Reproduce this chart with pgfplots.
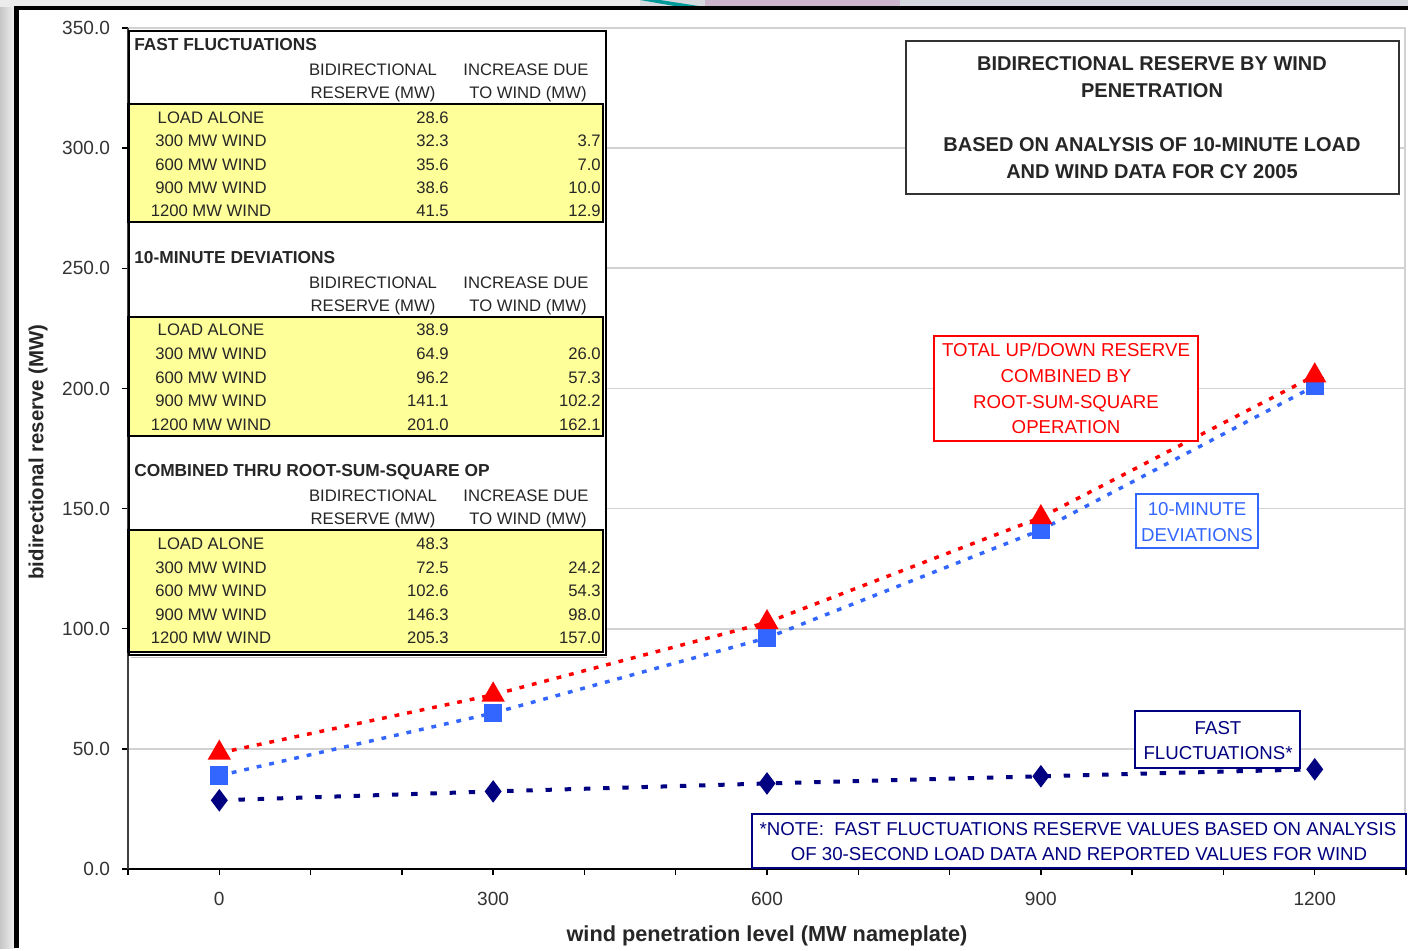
\documentclass[border=0pt]{standalone}
\usepackage{pgfplots}
\pgfplotsset{compat=1.18}
\usepackage{fontspec}
\setmainfont{Liberation Sans}
\definecolor{xlnavy}{RGB}{0,0,128}
\definecolor{xlblue}{RGB}{51,102,255}
\definecolor{xlred}{RGB}{255,0,0}
\definecolor{xlyellow}{RGB}{255,255,153}
\definecolor{bggray}{RGB}{214,217,222}
\newcommand{\fs}[1]{\fontsize{#1}{#1}\selectfont}

\pgfplotstableread{
x y
0 28.6
300 32.3
600 35.6
900 38.6
1200 41.5
}\fastdata
\pgfplotstableread{
x y
0 38.9
300 64.9
600 96.2
900 141.1
1200 201.0
}\tendata
\pgfplotstableread{
x y
0 48.3
300 72.5
600 102.6
900 146.3
1200 205.3
}\combdata

\begin{document}
\begin{tikzpicture}
% ---------- background in pixel coordinates ----------
\begin{scope}[x=0.75pt,y=-0.75pt]
\path[use as bounding box] (0,0) rectangle (1408,948);
\fill[bggray] (0,0) rectangle (1408,948);
\shade[left color=gray!45, right color=white!90!gray] (0,0) rectangle (15,948);
\fill[white!85!gray] (0,0) rectangle (640,7);
\fill[teal!80!cyan] (640,0) -- (660,0) -- (705,7) -- (680,7) -- cycle;
\fill[gray!55!violet!40] (705,0) rectangle (900,7);
\fill[white] (16,8) rectangle (1408,948);
\draw[black,line width=3.5pt] (16.5,948) -- (16.5,8) -- (1408,8);
\end{scope}

\begin{axis}[
  at={(96pt,-651.75pt)}, anchor=south west,
  width=958.5pt, height=630.75pt, scale only axis,
  xmin=-100, xmax=1300, ymin=0, ymax=350,
  axis x line*=bottom, axis y line*=left,
  axis line style={-},
  x axis line style={black,line width=1.2pt},
  y axis line style={black!75,line width=0.9pt},
  xtick={0,300,...,1200},
  minor xtick={-100,100,200,400,500,700,800,1000,1100,1300},
  ytick={0,50,...,350},
  tick align=outside,
  major tick length=4.5pt, minor tick length=4.5pt,
  every tick/.style={black,line width=1pt},
  ymajorgrids,
  major grid style={gray!35,line width=1.2pt},
  /pgf/number format/assume math mode=true,
  ticklabel style={font=\fs{14.3}, text=black!80},
  yticklabel style={xshift=-5.5pt, /pgf/number format/.cd, fixed, fixed zerofill, precision=1},
  xticklabel style={yshift=-9.5pt, /pgf/number format/.cd, fixed, precision=0, 1000 sep={}},
  clip=false,
]
\addplot[color=xlnavy, line width=3pt, dash pattern=on 4.8pt off 9.6pt,
  mark=diamond*, mark size=6pt, mark options={solid, fill=xlnavy}]
  table[x=x,y=y] {\fastdata};
\addplot[color=xlblue, line width=2.6pt, dash pattern=on 3.6pt off 6pt,
  mark=square*, mark size=5.6pt, mark options={solid, fill=xlblue}]
  table[x=x,y=y] {\tendata};
\addplot[color=xlred, line width=2.6pt, dash pattern=on 3.6pt off 6pt,
  mark=triangle*, mark size=7.5pt, mark options={solid, fill=xlred}]
  table[x=x,y=y] {\combdata};
\end{axis}

% ---------- annotations in pixel coordinates ----------
\begin{scope}[x=0.75pt,y=-0.75pt]
\draw[gray!35,line width=1.2pt] (1405,28) -- (1405,869);
% axis titles
\node[rotate=90, font=\fs{15.3}\bfseries, text=black!85] at (38,452) {bidirectional reserve (MW)};
\node[font=\fs{16.3}\bfseries, text=black!85] at (767,936) {wind penetration level (MW nameplate)};

% table box
\draw[fill=white, line width=2.2pt] (129,31) rectangle (606,655);
\fill[gray!50] (131,656.5) rectangle (607,658);
\begin{scope}[every node/.style={font=\fs{12.5}, text=black!85, inner sep=0pt}]
\foreach \top/\ttl/\bx in {31/FAST FLUCTUATIONS/104, 244/10-MINUTE DEVIATIONS/317, 457/COMBINED THRU ROOT-SUM-SQUARE OP/530}{
  \node[anchor=base west, font=\fs{13}\bfseries] at (134,\top+19) {\ttl};
  \node[anchor=base] at (373,\top+44) {BIDIRECTIONAL};
  \node[anchor=base] at (373,\top+67) {RESERVE (MW)};
  \node[anchor=base] at (526,\top+44) {INCREASE DUE};
  \node[anchor=base] at (528,\top+67) {TO WIND (MW)};
}
\draw[fill=xlyellow, line width=1.8pt] (128.5,104) rectangle (603,222);
\draw[fill=xlyellow, line width=1.8pt] (128.5,317) rectangle (603,436);
\draw[fill=xlyellow, line width=1.8pt] (128.5,530) rectangle (603,652);
% section 1
\foreach \y/\lab/\v/\d in {117/LOAD ALONE/28.6/, 140/300 MW WIND/32.3/3.7, 164/600 MW WIND/35.6/7.0, 187/900 MW WIND/38.6/10.0, 210/1200 MW WIND/41.5/12.9}{
  \node[anchor=base] at (211,\y+6) {\lab};
  \node[anchor=base east] at (449,\y+6) {\v};
  \node[anchor=base east] at (601,\y+6) {\d};
}
% section 2
\foreach \y/\lab/\v/\d in {329/LOAD ALONE/38.9/, 353/300 MW WIND/64.9/26.0, 377/600 MW WIND/96.2/57.3, 400/900 MW WIND/141.1/102.2, 424/1200 MW WIND/201.0/162.1}{
  \node[anchor=base] at (211,\y+6) {\lab};
  \node[anchor=base east] at (449,\y+6) {\v};
  \node[anchor=base east] at (601,\y+6) {\d};
}
% section 3
\foreach \y/\lab/\v/\d in {543/LOAD ALONE/48.3/, 567/300 MW WIND/72.5/24.2, 590/600 MW WIND/102.6/54.3, 614/900 MW WIND/146.3/98.0, 637/1200 MW WIND/205.3/157.0}{
  \node[anchor=base] at (211,\y+6) {\lab};
  \node[anchor=base east] at (449,\y+6) {\v};
  \node[anchor=base east] at (601,\y+6) {\d};
}
\end{scope}

% title box
\draw[draw=black!80, fill=white, line width=1.1pt] (906,41) rectangle (1399,194);
\begin{scope}[every node/.style={font=\fs{15}\bfseries, text=black!85, inner sep=0pt, anchor=base}]
\node at (1152,70) {BIDIRECTIONAL RESERVE BY WIND};
\node at (1152,97) {PENETRATION};
\node at (1152,151) {BASED ON ANALYSIS OF 10-MINUTE LOAD};
\node at (1152,178) {AND WIND DATA FOR CY 2005};
\end{scope}

% red box
\draw[draw=xlred, fill=white, line width=1.1pt] (934,336) rectangle (1198,441);
\begin{scope}[every node/.style={font=\fs{14}, text=xlred, inner sep=0pt, anchor=base}]
\node at (1066,356) {TOTAL UP/DOWN RESERVE};
\node at (1066,382) {COMBINED BY};
\node at (1066,408) {ROOT-SUM-SQUARE};
\node at (1066,433) {OPERATION};
\end{scope}

% blue box
\draw[draw=xlblue, fill=white, line width=1.1pt] (1136,494) rectangle (1258,548);
\begin{scope}[every node/.style={font=\fs{14}, text=xlblue, inner sep=0pt, anchor=base}]
\node at (1197,515) {10-MINUTE};
\node at (1197,541) {DEVIATIONS};
\end{scope}

% navy box
\draw[draw=xlnavy, fill=white, line width=1.1pt] (1135,711) rectangle (1300,768);
\begin{scope}[every node/.style={font=\fs{14}, text=xlnavy, inner sep=0pt, anchor=base}]
\node at (1218,734) {FAST};
\node at (1218,759) {FLUCTUATIONS*};
\end{scope}

% note box
\draw[draw=xlnavy, fill=white, line width=1.1pt] (752,814) rectangle (1406,868);
\begin{scope}[every node/.style={font=\fs{14}, text=xlnavy, inner sep=0pt, anchor=base}]
\node at (1078,835) {*NOTE:\ \ FAST FLUCTUATIONS RESERVE VALUES BASED ON ANALYSIS};
\node at (1079,860) {OF 30-SECOND LOAD DATA AND REPORTED VALUES FOR WIND};
\end{scope}
\end{scope}
\end{tikzpicture}
\end{document}
